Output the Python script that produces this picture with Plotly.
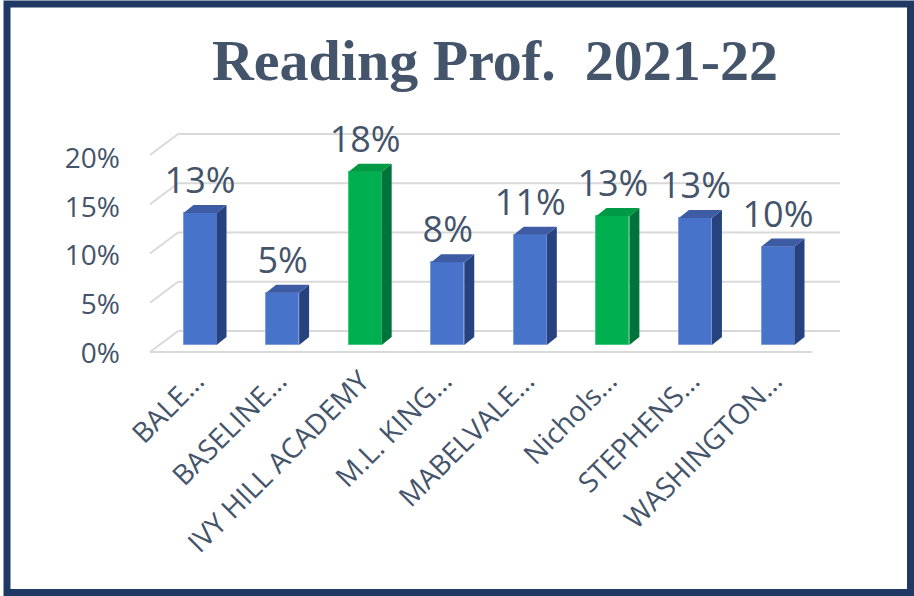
import plotly.graph_objects as go

# ---------------- data ----------------
schools = ["BALE…", "BASELINE…", "IVY HILL ACADEMY", "M.L. KING…",
           "MABELVALE…", "Nichols…", "STEPHENS…", "WASHINGTON…"]
prof = [0.134, 0.053, 0.176, 0.084, 0.112, 0.131, 0.129, 0.100]
highlight = [False, False, True, False, False, True, False, False]
y_ticks = [0, 0.05, 0.10, 0.15, 0.20]
title_text = "Reading Prof.\u00a0 2021-22"

# ---------------- style ----------------
W, H = 914, 596
ML, MR, MT, MB = 140, 54, 120, 216
PW, PH = W - ML - MR, H - MT - MB
X_RANGE = [-0.727, 7.993]
Y_RANGE = [-0.0355, 0.2284]
Y2_RANGE = [-0.0277, 0.2390]
BAR_W = 0.40      # front face width (category units)
DX, DY = 0.121, 0.0081   # 3-D depth of each bar
LABEL_PAD = 0.003
XF0, XF1 = -0.606, 7.41  # floor front edge
XB0, XB1 = -0.266, 7.75  # back wall
FY, BY = 0.0071, 0.0142

TEXT = "#44546A"
GRID = "#D9D9D9"
BLUE = dict(front="#4773CA", side="#26427F", top="#3D5CA3", edge="#7F9BDB")
GREEN = dict(front="#00B050", side="#00733A", top="#009A45", edge="#3CCB7C")

x_idx = list(range(len(schools)))

fig = go.Figure()

# front faces
fig.add_trace(go.Bar(
    x=x_idx, y=prof, width=BAR_W,
    marker=dict(color=[GREEN["front"] if h else BLUE["front"] for h in highlight],
                line=dict(color=[GREEN["edge"] if h else BLUE["edge"] for h in highlight], width=1)),
    hoverinfo="skip", showlegend=False,
))

# side and top faces
for i, v, h in zip(x_idx, prof, highlight):
    c = GREEN if h else BLUE
    xr = i + BAR_W / 2
    xl = i - BAR_W / 2
    fig.add_trace(go.Scatter(
        x=[xr, xr + DX, xr + DX, xr, xr], y=[0, DY, v + DY, v, 0],
        mode="lines", fill="toself", fillcolor=c["side"], line=dict(width=0),
        hoverinfo="skip", showlegend=False))
    fig.add_trace(go.Scatter(
        x=[xl, xr, xr + DX, xl + DX, xl], y=[v, v, v + DY, v + DY, v],
        mode="lines", fill="toself", fillcolor=c["top"], line=dict(width=0),
        hoverinfo="skip", showlegend=False))

# data labels
fig.add_trace(go.Scatter(
    x=x_idx, y=[v + DY + LABEL_PAD for v in prof],
    customdata=prof, mode="text", texttemplate="%{customdata:.0%}",
    textposition="top center", cliponaxis=False,
    textfont=dict(family="Open Sans", size=36, color=TEXT),
    hoverinfo="skip", showlegend=False))

# dummy trace on y2 so tick labels render
fig.add_trace(go.Scatter(x=[0], y=[0], yaxis="y2", mode="markers",
                         marker=dict(opacity=0), hoverinfo="skip", showlegend=False))

# gridlines with perspective (back wall + left wall)
shapes = []
for t in y_ticks:
    shapes.append(dict(type="line", xref="x", yref="y", x0=XB0, x1=XB1, y0=t + BY, y1=t + BY,
                       line=dict(color=GRID, width=2), layer="below"))
    shapes.append(dict(type="line", xref="x", yref="y", x0=XF0, x1=XB0, y0=t - FY, y1=t + BY,
                       line=dict(color=GRID, width=2), layer="below"))
shapes.append(dict(type="line", xref="x", yref="y", x0=XF0, x1=XF1, y0=-FY, y1=-FY,
                   line=dict(color=GRID, width=2), layer="below"))


def px_x(p):
    return (p - ML) / PW


def px_y(p):
    return (H - MB - p) / PH


shapes.append(dict(type="rect", xref="paper", yref="paper",
                   x0=px_x(7), x1=px_x(910.5), y0=px_y(592.5), y1=px_y(4),
                   line=dict(color="#203864", width=7), fillcolor="rgba(0,0,0,0)"))

fig.update_layout(
    width=W, height=H,
    margin=dict(l=ML, r=MR, t=MT, b=MB),
    paper_bgcolor="white", plot_bgcolor="white",
    title=dict(text=title_text, x=495 / W, xanchor="center", y=1 - 60 / H, yanchor="middle",
               xref="container", yref="container",
               font=dict(family="Liberation Serif", size=58, color=TEXT, weight="bold")),
    xaxis=dict(range=X_RANGE, tickvals=x_idx, ticktext=schools, tickangle=-45,
               tickfont=dict(family="Open Sans", size=28, color=TEXT),
               ticklabelstandoff=-22, ticklabelshift=-4,
               showgrid=False, zeroline=False, showline=False, ticks=""),
    yaxis=dict(range=Y_RANGE, showgrid=False, zeroline=False, showticklabels=False, showline=False),
    yaxis2=dict(range=Y2_RANGE, overlaying="y", side="left", tickvals=y_ticks, tickformat=".0%",
                tickfont=dict(family="Open Sans", size=28, color=TEXT), ticklabelstandoff=19,
                showgrid=False, zeroline=False, showline=False, ticks=""),
    shapes=shapes,
    bargap=0,
)

fig.write_html("out.html", config={"displayModeBar": False},
               post_script="document.body.style.margin='0';")
